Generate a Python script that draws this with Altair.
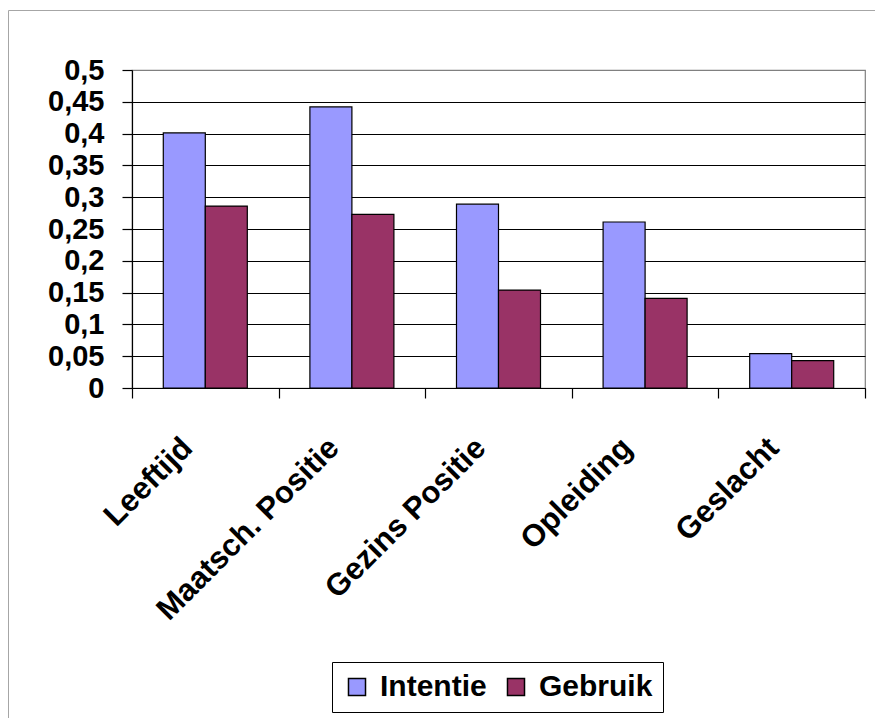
import altair as alt
import pandas as pd

categories = ["Leeftijd", "Maatsch. Positie", "Gezins Positie", "Opleiding", "Geslacht"]
series = ["Intentie", "Gebruik"]
intentie = [0.401, 0.442, 0.289, 0.261, 0.054]
gebruik = [0.286, 0.273, 0.154, 0.141, 0.043]
y_ticks = [0, 0.05, 0.1, 0.15, 0.2, 0.25, 0.3, 0.35, 0.4, 0.45, 0.5]
colors = ["#9999FF", "#993366"]

rows = []
for c, a, b in zip(categories, intentie, gebruik):
    rows.append({"category": c, "series": "Intentie", "value": a})
    rows.append({"category": c, "series": "Gebruik", "value": b})
df = pd.DataFrame(rows)

FONT = "Liberation Sans"
W, H = 733, 318

bars = alt.Chart(df).mark_bar(stroke="black", strokeWidth=1.2).encode(
    x=alt.X("category:N", sort=categories,
            scale=alt.Scale(paddingInner=0, paddingOuter=0),
            axis=alt.Axis(title=None, labelAngle=-45, labelAlign="right",
                          labelBaseline="middle", tickBand="extent", tickSize=10,
                          tickColor="black", tickWidth=1.2, domainColor="black",
                          domainWidth=1.2, labelFont=FONT, labelFontSize=31,
                          labelFontWeight="bold", labelColor="black", labelLimit=0,
                          labelPadding=45, labelOffset=-18, grid=False)),
    xOffset=alt.XOffset("series:N", sort=series,
                        scale=alt.Scale(paddingInner=0, paddingOuter=0.745)),
    y=alt.Y("value:Q", scale=alt.Scale(domain=[0, 0.5], nice=False),
            axis=alt.Axis(title=None, values=y_ticks,
                          labelExpr="replace(format(datum.value, '.2~f'), '.', ',')",
                          grid=True,
                          gridColor={"condition": {"test": "datum.value === 0.5", "value": "#808080"}, "value": "black"},
                          gridWidth=1.2, tickSize=10, tickColor="black", tickWidth=1.2,
                          domainColor="black", domainWidth=1.2, labelFont=FONT,
                          labelFontSize=29, labelFontWeight="bold", labelColor="black",
                          labelPadding=18)),
    color=alt.Color("series:N", sort=series,
                    scale=alt.Scale(domain=series, range=colors),
                    legend=alt.Legend(orient="none", legendX=200, legendY=592,
                                      direction="horizontal", title=None,
                                      symbolType="square", symbolSize=290,
                                      symbolStrokeColor="black", symbolStrokeWidth=1.5,
                                      labelFont=FONT, labelFontSize=30,
                                      labelFontWeight="bold", labelColor="black",
                                      strokeColor="black", padding=10,
                                      columnPadding=14, labelOffset=8)),
)

border = alt.Chart(alt.Data(values=[{}])).mark_rect(
    filled=False, stroke="#a6a6a6", strokeWidth=1
).encode(x=alt.value(-123.5), x2=alt.value(W + 200), y=alt.value(-59.5), y2=alt.value(H + 500))

chart = alt.layer(border, bars).properties(
    width=W, height=H,
    autosize=alt.AutoSizeParams(type="none"),
    padding={"left": 124, "top": 62, "right": 10, "bottom": 330},
).configure_view(stroke="#808080", strokeWidth=1.2)

chart.save("out.html", embed_options={"renderer": "svg", "actions": False})
